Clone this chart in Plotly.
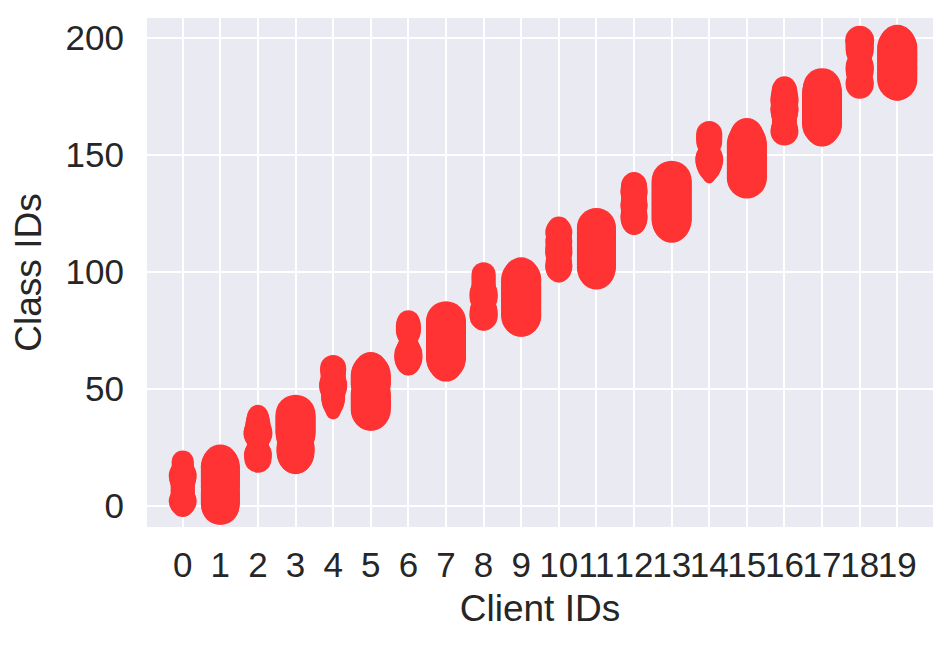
import plotly.graph_objects as go

# Client IDs (x categories) and class-ID blocks each client holds
client_ids = list(range(20))
class_start = [0, 0, 20, 20, 40, 40, 60, 60, 80, 80,
               100, 100, 120, 120, 140, 140, 160, 160, 180, 180]

# Marker diameter (px) for each of the 20 classes held by each client
sizes = {
    0:  [22, 25, 28, 26, 24, 24, 24, 24, 24, 24, 24, 26, 27, 28, 26, 23, 22, 22, 22, 22],
    1:  [38, 39, 39, 39, 39, 39, 39, 38, 39, 39, 39, 39, 39, 39, 39, 39, 39, 39, 37, 34],
    2:  [27, 27, 28, 26, 23, 22, 22, 22, 22, 24, 27, 29, 28, 26, 25, 25, 24, 23, 22, 20],
    3:  [30, 34, 37, 38, 38, 38, 37, 36, 36, 37, 39, 40, 40, 40, 40, 40, 40, 40, 40, 40],
    4:  [14, 16, 18, 20, 22, 23, 24, 24, 24, 25, 26, 28, 28, 26, 25, 25, 25, 25, 26, 26],
    5:  [37, 40, 40, 40, 40, 40, 40, 40, 40, 37, 37, 37, 40, 40, 40, 40, 40, 38, 35, 32],
    6:  [20, 24, 26, 28, 28, 28, 26, 24, 22, 20, 19, 18, 19, 22, 24, 25, 25, 25, 24, 22],
    7:  [32, 35, 38, 40, 40, 40, 40, 40, 40, 40, 40, 40, 40, 40, 40, 40, 40, 40, 40, 40],
    8:  [24, 28, 28, 28, 27, 25, 22, 22, 24, 28, 28, 28, 26, 24, 24, 24, 24, 24, 24, 24],
    9:  [36, 40, 40, 40, 40, 40, 40, 40, 40, 40, 40, 40, 40, 40, 40, 40, 40, 40, 37, 34],
    10: [21, 25, 27, 27, 26, 26, 24, 25, 27, 27, 27, 26, 26, 27, 26, 24, 26, 27, 25, 22],
    11: [35, 38, 39, 39, 39, 39, 39, 39, 39, 39, 39, 39, 39, 39, 39, 39, 39, 39, 39, 39],
    12: [20, 24, 26, 27, 27, 26, 25, 26, 27, 27, 26, 25, 25, 26, 27, 27, 26, 26, 22, 15],
    13: [35, 38, 40, 40, 40, 40, 40, 40, 40, 40, 40, 40, 40, 40, 40, 40, 40, 40, 40, 40],
    14: [10, 13, 16, 19, 22, 24, 26, 27, 28, 27, 24, 20, 18, 19, 22, 25, 26, 26, 26, 26],
    15: [40, 40, 40, 40, 40, 40, 40, 40, 40, 40, 40, 40, 40, 40, 40, 40, 38, 36, 34, 32],
    16: [28, 27, 26, 25, 25, 25, 25, 26, 27, 28, 28, 27, 27, 28, 28, 27, 26, 26, 25, 22],
    17: [30, 34, 37, 40, 40, 40, 40, 40, 40, 40, 40, 40, 40, 40, 40, 40, 40, 40, 38, 38],
    18: [28, 28, 25, 24, 25, 27, 28, 28, 28, 26, 23, 22, 23, 25, 27, 28, 28, 28, 28, 29],
    19: [32, 36, 40, 40, 40, 40, 40, 40, 40, 40, 40, 40, 40, 40, 40, 40, 40, 38, 35, 31],
}

y_ticks = [0, 50, 100, 150, 200]

xs, ys, ss = [], [], []
for c in client_ids:
    for k, s in enumerate(sizes[c]):
        xs.append(c)
        ys.append(class_start[c] + k)
        ss.append(s)

fig = go.Figure(go.Scatter(
    x=xs, y=ys, mode="markers",
    marker=dict(size=ss, color="#FF3333", line=dict(width=0), opacity=1),
    hoverinfo="x+y", showlegend=False,
))

font_family = "Liberation Sans, Arial, sans-serif"
fig.update_layout(
    width=952, height=647,
    margin=dict(l=139, r=27, t=10, b=128),
    paper_bgcolor="white", plot_bgcolor="#EAEAF2",
    font=dict(family=font_family, color="#262626"),
)
fig.update_xaxes(
    range=[-0.95, 19.95], tickmode="array", tickvals=client_ids,
    ticktext=[str(c) for c in client_ids], tickangle=0,
    showgrid=True, gridcolor="white", gridwidth=2, zeroline=False,
    showline=False, ticks="", tickfont=dict(size=35), ticklabelstandoff=14,
    title=dict(text="Client IDs", font=dict(size=37), standoff=12),
    automargin=False,
)
fig.update_yaxes(
    range=[-8.97, 208.55], tickmode="array", tickvals=y_ticks,
    ticktext=[str(v) for v in y_ticks],
    showgrid=True, gridcolor="white", gridwidth=2, zeroline=False,
    showline=False, ticks="", tickfont=dict(size=35), ticklabelstandoff=22,
    title=dict(text="Class IDs", font=dict(size=37), standoff=14),
    automargin=False,
)

fig.write_html("out.html")
